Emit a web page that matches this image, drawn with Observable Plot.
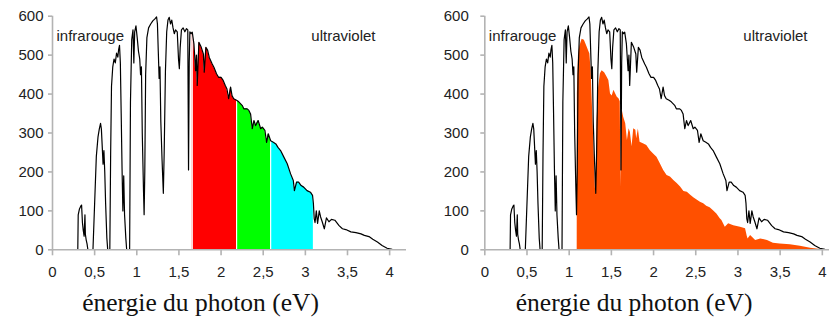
<!DOCTYPE html>
<html><head><meta charset="utf-8">
<script src="https://cdn.jsdelivr.net/npm/d3@7"></script>
<script src="https://cdn.jsdelivr.net/npm/@observablehq/plot@0.6"></script>
<style>
body{margin:0;background:#fff;}
#wrap{display:flex;width:829px;height:321px;overflow:hidden;}
#wrap svg{display:block;flex:none;}
</style></head><body><div id="wrap"></div>
<script>
// Solar spectrum vs photon energy (eV)
const energy = [0.00,0.30,0.305,0.32,0.335,0.345,0.355,0.365,0.375,0.385,0.39,0.40,0.41,0.42,0.48,0.50,0.52,0.54,0.555,0.57,0.58,0.59,0.60,0.61,0.62,0.63,0.645,0.655,0.68,0.69,0.70,0.715,0.73,0.745,0.76,0.775,0.785,0.795,0.805,0.815,0.825,0.835,0.845,0.855,0.87,0.88,0.915,0.925,0.94,0.955,0.965,0.975,0.99,1.005,1.02,1.035,1.045,1.055,1.065,1.08,1.087,1.095,1.105,1.12,1.14,1.165,1.19,1.215,1.235,1.245,1.255,1.265,1.275,1.285,1.30,1.315,1.325,1.34,1.355,1.37,1.385,1.40,1.415,1.43,1.445,1.46,1.48,1.495,1.505,1.515,1.53,1.55,1.57,1.59,1.605,1.614,1.622,1.63,1.645,1.658,1.678,1.698,1.708,1.717,1.737,1.765,1.79,1.80,1.82,1.84,1.86,1.895,1.915,1.946,1.97,2.0,2.025,2.05,2.07,2.09,2.113,2.13,2.15,2.184,2.21,2.25,2.27,2.31,2.33,2.35,2.37,2.39,2.41,2.44,2.47,2.49,2.52,2.54,2.56,2.588,2.62,2.65,2.675,2.706,2.745,2.785,2.825,2.857,2.87,2.896,2.92,2.95,2.98,3.02,3.06,3.085,3.095,3.105,3.115,3.13,3.145,3.165,3.18,3.20,3.225,3.25,3.28,3.31,3.35,3.40,3.44,3.48,3.54,3.60,3.66,3.70,3.755,3.80,3.855,3.91,3.97,4.03,4.10,4.15];
const irradiance = [0,0,90,105,112,115,70,50,35,90,40,25,15,0,0,120,240,290,310,325,310,265,220,255,200,120,30,0,0,250,420,470,490,480,505,495,515,525,480,350,210,100,190,90,30,0,0,380,540,565,480,560,575,545,510,490,450,470,300,150,90,200,450,545,570,580,588,593,598,580,510,440,470,330,230,145,250,460,560,590,597,580,590,570,555,565,560,490,465,520,565,570,560,568,565,205,480,560,555,559,529,460,500,422,533,520,503,456,520,513,494,477,469,452,443,443,435,422,413,388,418,396,388,384,380,371,362,362,358,349,311,332,319,332,311,315,307,276,298,280,276,272,263,255,238,221,195,178,152,174,174,165,161,152,148,140,120,80,70,100,68,100,85,72,54,82,72,78,76,62,54,52,46,44,41,37,34,27,20,11,4,1,0,0];

// Part of the spectrum usable by a 1.1 eV cell (right panel)
const usableEnergy = [1.095,1.097,1.11,1.126,1.153,1.18,1.21,1.245,1.26,1.27,1.29,1.31,1.318,1.33,1.35,1.37,1.39,1.42,1.45,1.47,1.49,1.51,1.53,1.57,1.59,1.605,1.614,1.622,1.63,1.645,1.67,1.69,1.71,1.725,1.745,1.765,1.79,1.80,1.82,1.84,1.885,1.92,1.96,2.0,2.04,2.08,2.12,2.16,2.2,2.24,2.28,2.32,2.36,2.40,2.44,2.48,2.52,2.555,2.594,2.63,2.67,2.71,2.75,2.79,2.81,2.85,2.89,2.95,3.03,3.09,3.11,3.12,3.15,3.21,3.27,3.35,3.42,3.50,3.62,3.74,3.86,3.98,4.02];
const usableValue = [0,400,500,522,541,538,522,503,460,400,289,160,140,330,418,452,460,455,443,435,400,395,410,392,388,380,160,340,358,341,324,281,311,302,265,311,307,285,310,276,272,268,255,246,238,221,204,191,187,178,170,161,150,148,140,133,127,122,118,112,108,100,92,80,75,58,67,62,58,54,35,28,37,24,28,24,17,15,13,9,4,1,0];

// Visible bands (left panel): red, green, blue-ish limits in eV
const bandEdges = [1.658, 2.184, 2.588, 3.095];
const xTicks = [0,0.5,1,1.5,2,2.5,3,3.5,4];
const yTicks = [0,100,200,300,400,500,600];
const xLabel = "énergie du photon (eV)";
const leftNote = "infrarouge";
const rightNote = "ultraviolet";

// ---- styles ----
const bandColors = ["#ff0000", "#00ff00", "#00ffff"];
const usableColor = "#ff5000";
const axisGrey = "#b3b3b3";
const textDark = "#222";

const spectrum = energy.map((e, i) => ({e, v: irradiance[i]}));
const usable = usableEnergy.map((e, i) => ({e, v: usableValue[i]}));
const fmt = d => String(d).replace(".", ",");

function panel({width, marginLeft, marginRight, xMax, yPad, labelDx, uvDx, fills}) {
  return Plot.plot({
    width, height: 321,
    marginTop: 15.7, marginBottom: 71.7, marginLeft, marginRight,
    x: {domain: [0, xMax]},
    y: {domain: [0, 600]},
    style: {fontFamily: "Liberation Sans, Arial, sans-serif", fontSize: "15px", background: "#fff", overflow: "hidden"},
    marks: [
      ...fills,
      Plot.line(spectrum, {x: "e", y: "v", stroke: "#000", strokeWidth: 1.2, clip: true}),
      Plot.ruleY([0], {stroke: axisGrey, strokeWidth: 1.6}),
      Plot.ruleX([0], {stroke: axisGrey, strokeWidth: 1.6}),
      Plot.axisX({ticks: xTicks, tickFormat: fmt, tickSize: 6, tickPadding: 11, stroke: axisGrey, strokeWidth: 1.6, fill: textDark, label: null}),
      Plot.axisY({ticks: yTicks, tickSize: 4, tickPadding: yPad, stroke: axisGrey, strokeWidth: 1.6, fill: textDark, label: null}),
      Plot.text([leftNote], {frameAnchor: "top-left", textAnchor: "start", lineAnchor: "middle", dx: 4, dy: 20, fill: textDark, fontSize: 15}),
      Plot.text([rightNote], {frameAnchor: "top-right", textAnchor: "end", lineAnchor: "middle", dx: uvDx, dy: 20, fill: textDark, fontSize: 15}),
      Plot.text([xLabel], {frameAnchor: "bottom", textAnchor: "middle", lineAnchor: "bottom", dx: labelDx, dy: 60.7, fill: "#111", fontSize: 25.5, fontFamily: "Liberation Serif, Times New Roman, serif"})
    ]
  });
}

const bandFills = bandColors.map((c, i) =>
  Plot.areaY(spectrum.filter(d => d.e >= bandEdges[i] && d.e <= bandEdges[i + 1]), {x: "e", y: "v", fill: c})
);
const gapRules = Plot.ruleX(spectrum.filter(d => bandEdges.slice(0, 3).includes(d.e)), {x: "e", y1: 0, y2: "v", stroke: "#fff", strokeWidth: 1.2});

const left = panel({width: 414, marginLeft: 52, marginRight: 8, xMax: 4.2, yPad: 5, labelDx: -29, uvDx: -31,
  fills: [...bandFills, gapRules]});
const right = panel({width: 415, marginLeft: 70.3, marginRight: 0, xMax: 4.085, yPad: 12, labelDx: -23, uvDx: -22,
  fills: [Plot.areaY(usable, {x: "e", y: "v", fill: usableColor})]});

document.getElementById("wrap").append(left, right);
</script>
</body></html>
